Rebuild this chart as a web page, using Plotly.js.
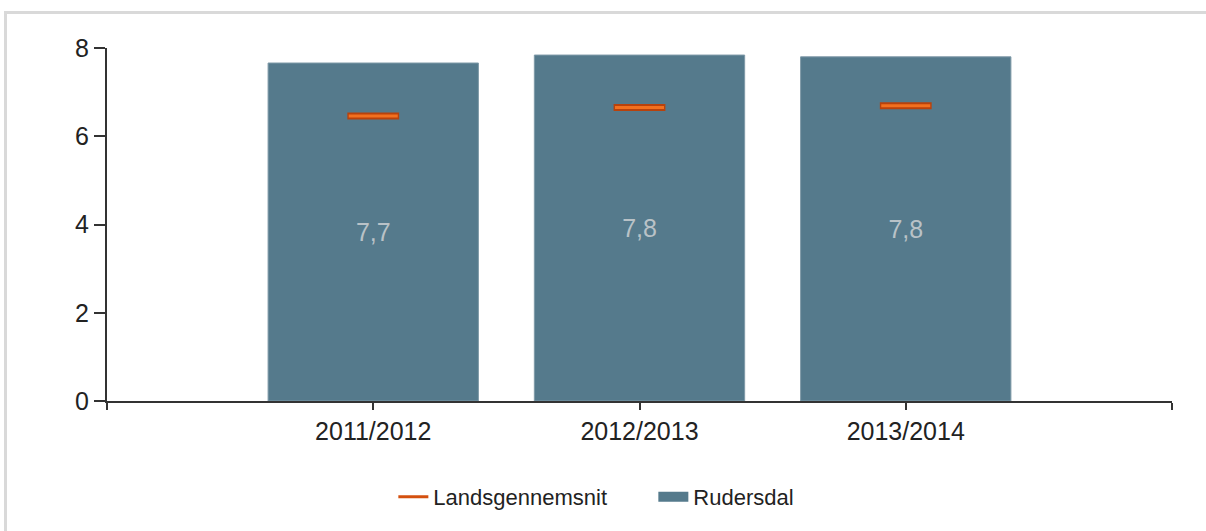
<!DOCTYPE html>
<html>
<head>
<meta charset="utf-8">
<script src="https://cdn.plot.ly/plotly-3.0.1.min.js"></script>
<style>
  html, body { margin: 0; padding: 0; background: #ffffff; }
  #wrap { position: relative; width: 1206px; height: 531px; overflow: hidden; }
  #frame { position: absolute; left: 4px; top: 11px; width: 1300px; height: 600px;
           border-top: 3px solid #d9d9d9; border-left: 3px solid #d9d9d9; pointer-events: none; }
  #chart { position: absolute; left: 0; top: 0; width: 1206px; height: 531px; }
</style>
</head>
<body>
<div id="wrap">
  <div id="frame"></div>
  <div id="chart"></div>
</div>
<script>
// ---- data ----
const categories = ['2011/2012', '2012/2013', '2013/2014'];
const rudersdal = [7.66, 7.84, 7.80];
const landsgennemsnit = [6.46, 6.65, 6.69];
const seriesNames = ['Landsgennemsnit', 'Rudersdal'];

// positions derived from category index (slot 0 and 4 are empty axis ends)
const xpos = categories.map((c, i) => i + 1);
const tickvals = [0].concat(xpos, [categories.length + 1]);
const ticktext = [''].concat(categories, ['']);

const fontFam = '"Liberation Sans", Arial, sans-serif';
const barColor = '#557a8c';

const traces = [
  // legend entry for the national average (drawn as a line)
  {
    type: 'scatter', mode: 'lines', name: seriesNames[0],
    x: [null], y: [null],
    line: { color: '#d4500f', width: 3 },
    hoverinfo: 'skip', showlegend: true
  },
  // legend entry for the bars (wide swatch)
  {
    type: 'scatter', mode: 'lines', name: seriesNames[1],
    x: [null], y: [null],
    line: { color: barColor, width: 17 },
    hoverinfo: 'skip', showlegend: true
  },
  {
    type: 'bar', name: seriesNames[1],
    x: xpos, y: rudersdal,
    marker: { color: barColor, line: { color: '#7f9aa8', width: 1 } },
    texttemplate: '%{y:.1f}',
    textposition: 'inside',
    insidetextanchor: 'middle',
    textangle: 0,
    insidetextfont: { family: fontFam, size: 25, color: '#b9c2c7' },
    showlegend: false
  },
  // national average markers: dark outline + lighter core
  {
    type: 'scatter', mode: 'markers', name: seriesNames[0],
    x: xpos, y: landsgennemsnit,
    marker: { symbol: 'line-ew', size: 37, line: { color: '#b8420c', width: 7 } },
    showlegend: false
  },
  {
    type: 'scatter', mode: 'markers', name: seriesNames[0],
    x: xpos, y: landsgennemsnit,
    marker: { symbol: 'line-ew', size: 35, line: { color: '#f2701f', width: 3 } },
    showlegend: false, hoverinfo: 'skip'
  }
];

const layout = {
  width: 1206, height: 531,
  margin: { l: 107, r: 34, t: 48, b: 130 },
  paper_bgcolor: 'rgba(0,0,0,0)',
  plot_bgcolor: 'rgba(0,0,0,0)',
  separators: ',.',
  bargap: 0.21,
  font: { family: fontFam, size: 25, color: '#222222' },
  xaxis: {
    type: 'linear',
    range: [0, categories.length + 1],
    tickmode: 'array', tickvals: tickvals, ticktext: ticktext,
    showgrid: false, zeroline: false,
    showline: true, linecolor: '#333333', linewidth: 2,
    ticks: 'outside', ticklen: 7, tickwidth: 2, tickcolor: '#333333',
    tickfont: { family: fontFam, size: 25, color: '#222222' },
    fixedrange: true
  },
  yaxis: {
    range: [0, 8],
    tickmode: 'array', tickvals: [0, 2, 4, 6, 8],
    showgrid: false, zeroline: false,
    showline: true, linecolor: '#333333', linewidth: 2,
    ticks: 'outside', ticklen: 11, tickwidth: 2, tickcolor: '#333333',
    tickfont: { family: fontFam, size: 25, color: '#222222' },
    fixedrange: true
  },
  showlegend: true,
  legend: {
    orientation: 'h',
    x: 0.513, xanchor: 'center',
    y: -0.272, yanchor: 'middle',
    font: { family: fontFam, size: 22, color: '#222222' },
    traceorder: 'normal',
    entrywidth: 215,
    entrywidthmode: 'pixels'
  }
};

Plotly.newPlot('chart', traces, layout, { displayModeBar: false, staticPlot: true });
</script>
</body>
</html>
